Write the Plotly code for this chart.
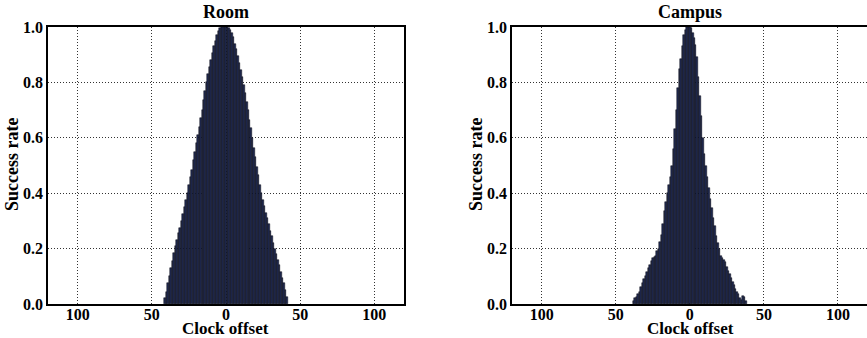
import plotly.graph_objects as go

# Clock offsets (bin centres) and success rates for each environment
room_offset = list(range(-41, 42))
room_rate = [
    0.02, 0.045, 0.075, 0.10, 0.13, 0.155, 0.185, 0.21, 0.23, 0.255,
    0.275, 0.30, 0.325, 0.35, 0.375, 0.40, 0.43, 0.46, 0.485, 0.52,
    0.55, 0.58, 0.61, 0.64, 0.67, 0.70, 0.735, 0.77, 0.80, 0.83,
    0.855, 0.88, 0.905, 0.93, 0.95, 0.97, 0.985, 0.995, 1.0, 1.0,
    1.0, 1.0, 1.0, 0.995, 0.99, 0.98, 0.965, 0.94, 0.92, 0.895,
    0.87, 0.845, 0.82, 0.79, 0.76, 0.73, 0.70, 0.665, 0.635, 0.60,
    0.565, 0.53, 0.495, 0.465, 0.43, 0.40, 0.375, 0.355, 0.33, 0.31,
    0.29, 0.265, 0.245, 0.22, 0.20, 0.18, 0.16, 0.14, 0.115, 0.095,
    0.075, 0.05, 0.025,
]

campus_offset = list(range(-38, 39))
campus_rate = [
    0.01, 0.02, 0.025, 0.035, 0.045, 0.06, 0.075, 0.09, 0.10, 0.115,
    0.13, 0.14, 0.155, 0.165, 0.17, 0.175, 0.19, 0.20, 0.225, 0.25,
    0.29, 0.335, 0.37, 0.40, 0.43, 0.46, 0.50, 0.56, 0.63, 0.70,
    0.78, 0.85, 0.885, 0.93, 0.97, 0.99, 1.0, 1.0, 1.0, 0.995,
    0.98, 0.96, 0.935, 0.89, 0.82, 0.75, 0.68, 0.60, 0.54, 0.50,
    0.46, 0.42, 0.38, 0.345, 0.31, 0.28, 0.245, 0.22, 0.20, 0.175,
    0.165, 0.16, 0.15, 0.135, 0.12, 0.11, 0.095, 0.08, 0.07, 0.055,
    0.045, 0.035, 0.02, 0.015, 0.03, 0.025, 0.01,
]

x_tick_vals = [-100, -50, 0, 50, 100]
x_tick_text = ["100", "50", "0", "50", "100"]
y_tick_vals = [0.0, 0.2, 0.4, 0.6, 0.8, 1.0]
y_tick_text = ["0.0", "0.2", "0.4", "0.6", "0.8", "1.0"]
panel_titles = ["Room", "Campus"]

W, H = 867, 338
FONT = "Liberation Serif"
BAR_FILL = "#1f2a52"

fig = go.Figure()

panels = [
    (room_offset, room_rate, "x", "y", [48 / W, 404 / W], True),
    (campus_offset, campus_rate, "x2", "y2", [512 / W, 1.0], False),
]
y_dom = [(H - 304) / H, (H - 27) / H]


def label(text, x_px, y_px, size, angle=0):
    fig.add_annotation(
        text=text, x=x_px / W, y=(H - y_px) / H, xref="paper", yref="paper",
        xanchor="center", yanchor="middle", textangle=angle, showarrow=False,
        borderpad=0,
        font=dict(family=FONT, size=size, color="black", weight="bold"),
    )


for i, (xs, ys, xa, ya, xdom, mirror_y) in enumerate(panels):
    fig.add_trace(go.Bar(
        x=xs, y=ys, width=1.0, xaxis=xa, yaxis=ya,
        marker=dict(color=BAR_FILL, line=dict(color="#0a0a14", width=0.5)),
        showlegend=False,
    ))
    suffix = "" if i == 0 else "2"
    axis_common = dict(
        showgrid=True, gridcolor="#333333", griddash="1px,2px", gridwidth=1,
        showline=True, linecolor="black", linewidth=1.5,
        ticks="", zeroline=False, automargin=False,
        tickfont=dict(family=FONT, size=16, color="black", weight="bold"),
    )
    fig.layout["xaxis" + suffix] = dict(
        domain=xdom, range=[-120, 120 if i == 0 else 119.6], anchor="y" + suffix,
        tickvals=x_tick_vals, ticktext=x_tick_text, mirror=True,
        ticklabelstandoff=-5,
        **axis_common,
    )
    fig.layout["yaxis" + suffix] = dict(
        domain=y_dom, range=[0, 1.0], anchor="x" + suffix,
        tickvals=y_tick_vals, ticktext=y_tick_text, mirror=mirror_y,
        **axis_common,
    )
    left_px = xdom[0] * W
    centre_px = left_px + 178
    label(panel_titles[i], centre_px, 12, 18)
    label("Clock offset", centre_px, 328, 17)
    label("Success rate", left_px - 36, 165, 18, angle=-90)

fig.update_layout(
    width=W, height=H, autosize=False,
    margin=dict(l=0, r=0, t=0, b=0, pad=0, autoexpand=False),
    paper_bgcolor="white", plot_bgcolor="white", bargap=0,
)

fig.write_html("out.html")
